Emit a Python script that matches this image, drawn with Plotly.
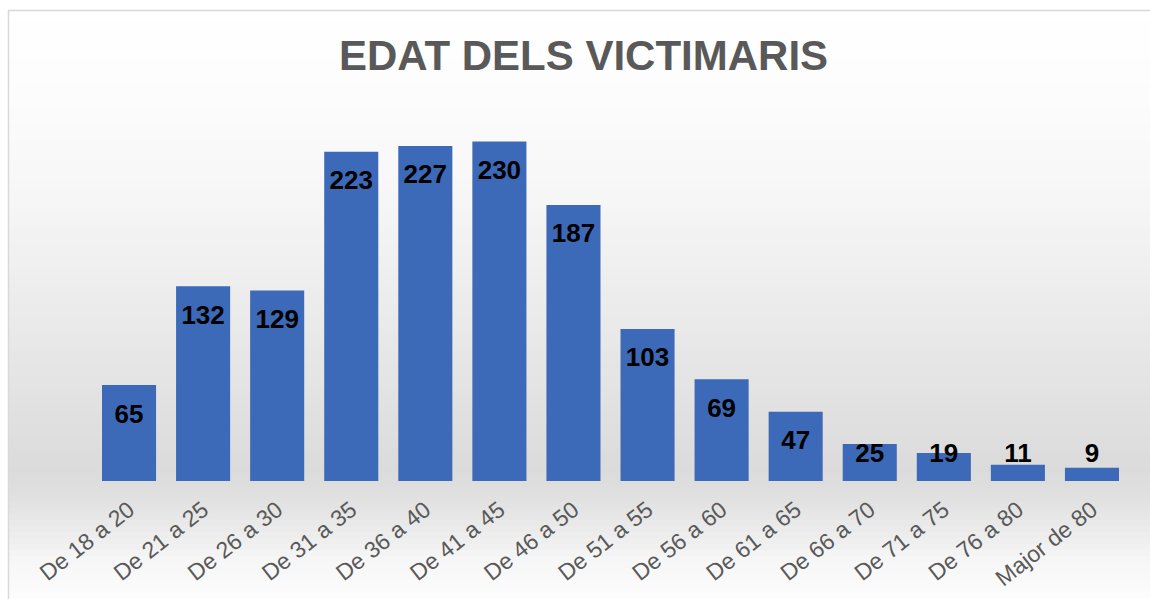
import plotly.graph_objects as go

categories = ["De 18 a 20", "De 21 a 25", "De 26 a 30", "De 31 a 35", "De 36 a 40",
              "De 41 a 45", "De 46 a 50", "De 51 a 55", "De 56 a 60", "De 61 a 65",
              "De 66 a 70", "De 71 a 75", "De 76 a 80", "Major de 80"]
values = [65, 132, 129, 223, 227, 230, 187, 103, 69, 47, 25, 19, 11, 9]
title_text = "EDAT DELS VICTIMARIS"

W, H = 1150, 599
ml, mr, mt, mb = 92, 21, 112, 118
ymax = 250
plot_h = H - mt - mb
plot_w = W - ml - mr

# label position: inside end, but never lower than a minimum height
units_per_px = ymax / plot_h
label_off = 31 * units_per_px
label_floor = 26 * units_per_px
label_y = [max(v - label_off, label_floor) for v in values]

FONT = "Liberation Sans, Arial, sans-serif"

fig = go.Figure()
fig.add_trace(go.Bar(
    x=categories, y=values,
    marker=dict(color="#3d69b9", line=dict(width=0)),
    hoverinfo="x+y",
))
fig.add_trace(go.Scatter(
    x=categories, y=label_y, mode="text",
    text=[str(v) for v in values],
    textposition="middle center",
    textfont=dict(family=FONT, size=26, color="#000000", weight="bold"),
    hoverinfo="skip", cliponaxis=False,
))

# background gradient bands (pixel y -> grey level)
stops = [(10, 255), (100, 252), (200, 246), (300, 236), (400, 226), (470, 219),
         (490, 222), (520, 232), (560, 246), (599, 253)]

def grey_at(py):
    for (a, ga), (b, gb) in zip(stops[:-1], stops[1:]):
        if a <= py <= b:
            t = (py - a) / (b - a)
            return ga + (gb - ga) * t
    return 255

def px2px(px):
    return (px - ml) / plot_w

def py2py(py):
    return (H - mb - py) / plot_h

shapes = []
step = 6
py = 10
while py < H:
    g = int(round(grey_at(py + step / 2)))
    shapes.append(dict(type="rect", xref="paper", yref="paper",
                       x0=px2px(8.5), x1=px2px(W + 10),
                       y0=py2py(py + step + 0.5), y1=py2py(py),
                       fillcolor=f"rgb({g},{g},{g})", line=dict(width=0),
                       layer="below"))
    py += step
# chart border
shapes.append(dict(type="rect", xref="paper", yref="paper",
                   x0=px2px(8.5), x1=px2px(W + 10),
                   y0=py2py(H + 10), y1=py2py(10.5),
                   line=dict(color="#d9d9d9", width=1.5),
                   fillcolor="rgba(0,0,0,0)", layer="below"))

fig.update_layout(
    width=W, height=H,
    margin=dict(l=ml, r=mr, t=mt, b=mb, autoexpand=False),
    paper_bgcolor="#ffffff",
    plot_bgcolor="rgba(0,0,0,0)",
    showlegend=False,
    bargap=0.27,
    shapes=shapes,
    title=dict(text=title_text, x=(583.5) / W, xanchor="center",
               y=1 - 55 / H, yanchor="middle", yref="container",
               font=dict(family=FONT, size=42, color="#595959", weight="bold")),
    xaxis=dict(tickangle=-38, showgrid=False, zeroline=False, showline=False,
               automargin=False, ticks="", range=[-0.5, len(categories) - 0.5],
               ticklabelstandoff=10,
               tickfont=dict(family=FONT, size=23, color="#595959")),
    yaxis=dict(range=[0, ymax], visible=False, automargin=False),
)

fig.write_html("out.html", config={"displayModeBar": False},
               post_script="document.body.style.margin='0';document.body.style.padding='0';")
